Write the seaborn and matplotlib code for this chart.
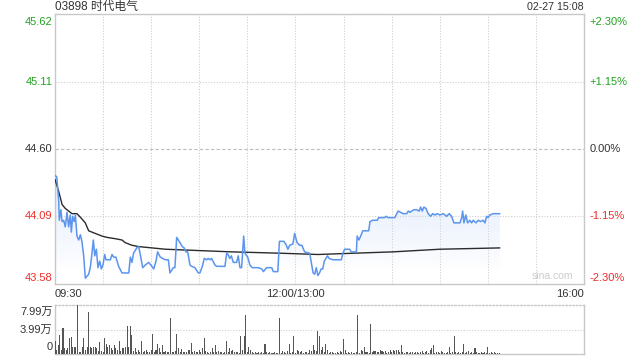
import numpy as np
import pandas as pd
import matplotlib
matplotlib.use("Agg")
import matplotlib.pyplot as plt
import seaborn as sns
from matplotlib.patches import Polygon

sns.set_style("white")
plt.rcParams['font.family'] = ['Liberation Sans', 'Noto Sans CJK SC', 'DejaVu Sans']

# ---------------- data ----------------
title = "03898 时代电气"
stamp = "02-27 15:08"
prev_close = 44.60
price_ticks = [45.62, 45.11, 44.60, 44.09, 43.58]
pct_ticks = ["+2.30%", "+1.15%", "0.00%", "-1.15%", "-2.30%"]
time_ticks = [0, 150, 330]
time_labels = ["09:30", "12:00/13:00", "16:00"]
vol_ticks = [0, 3.99, 7.99]
vol_labels = ["0", "3.99万", "7.99万"]

price_min = [0, 1.1, 2.3, 2.7, 3.7, 4.4, 5.4, 6.4, 7.5, 8.5,
             9.5, 10.2, 11, 12, 12.7, 13.7, 14.8, 15.8, 16.8, 17.9,
             18.9, 21, 22, 23, 23.9, 24.8, 25.8, 26.8, 27.9, 28.9,
             29.9, 31, 31.8, 33, 34.5, 35.6, 36.6, 38, 39.7, 41.8,
             46, 47, 48, 49, 51, 52.2, 53.2, 54.7, 56.3, 58.4,
             60.5, 61.6, 63, 64, 65.7, 68.8, 70.7, 71.7, 73.8, 74.8,
             75.9, 78, 79.4, 80.6, 81.7, 82.8, 84.2, 85.3, 87.3, 89.4,
             90.4, 91.9, 93.1, 94.6, 95.6, 96.7, 97.7, 99.8, 100.9, 106,
             107.1, 108, 109, 110, 111.2, 113.3, 114.3, 115.4, 116.4, 117.7,
             118.5, 120.2, 121.6, 123, 126.8, 129, 130, 132, 135.2, 136.2,
             139, 140, 142.8, 144.3, 145.3, 146.4, 148.4, 149.5, 151, 152.6,
             154, 155.7, 158.9, 159.9, 161, 162, 163, 164, 165, 166,
             167, 168, 170, 171, 173.4, 178.6, 179.6, 180.7, 183.8, 184.8,
             188, 188.5, 189.6, 190.7, 192, 195.7, 196.5, 198.3, 201, 201.9,
             205.6, 206.6, 207.7, 210.8, 212, 214, 217.2, 219.4, 220.4, 221.4,
             222.5, 224, 225.6, 227.2, 228.1, 229.1, 230.1, 231.4, 232.8, 234.3,
             235.6, 237, 238.4, 240.1, 242.2, 244.3, 245.9, 247.4, 248.9, 252.6,
             253.7, 254.3, 255.1, 256.3, 257.4, 258.8, 259.9, 260.9, 262.6, 264,
             265.5, 267.1, 268.2, 269.2, 270.2, 271.3, 273.4, 277.5]
price_val = [44.40, 44.39, 44.21, 44.06, 44.14, 44.05, 44.06, 44.01, 44.12, 44.01,
             44.10, 43.97, 44.09, 44.05, 44.10, 43.94, 43.91, 43.95, 43.90, 43.79,
             43.62, 43.65, 43.70, 43.80, 43.91, 43.79, 43.84, 43.70, 43.75, 43.69,
             43.72, 43.80, 43.76, 43.76, 43.76, 43.80, 43.78, 43.78, 43.71, 43.66,
             43.66, 43.78, 43.74, 43.81, 43.85, 43.86, 43.80, 43.70, 43.72, 43.74,
             43.71, 43.69, 43.75, 43.82, 43.78, 43.76, 43.76, 43.66, 43.70, 43.70,
             43.93, 43.89, 43.86, 43.85, 43.82, 43.82, 43.72, 43.71, 43.70, 43.66,
             43.66, 43.71, 43.77, 43.76, 43.77, 43.76, 43.77, 43.72, 43.71, 43.71,
             43.81, 43.80, 43.77, 43.79, 43.74, 43.74, 43.79, 43.70, 43.70, 43.94,
             43.81, 43.78, 43.72, 43.70, 43.70, 43.69, 43.67, 43.70, 43.70, 43.67,
             43.67, 43.90, 43.90, 43.87, 43.84, 43.87, 43.88, 43.96, 43.89, 43.87,
             43.87, 43.82, 43.81, 43.74, 43.66, 43.65, 43.70, 43.64, 43.66, 43.69,
             43.69, 43.75, 43.79, 43.77, 43.76, 43.76, 43.81, 43.84, 43.84, 43.82,
             43.82, 43.94, 43.91, 43.94, 43.98, 43.98, 44.05, 44.06, 44.06, 44.08,
             44.08, 44.09, 44.08, 44.08, 44.08, 44.13, 44.11, 44.11, 44.13, 44.12,
             44.13, 44.14, 44.14, 44.13, 44.16, 44.13, 44.16, 44.15, 44.11, 44.09,
             44.11, 44.10, 44.11, 44.10, 44.11, 44.09, 44.11, 44.09, 44.04, 44.04,
             44.08, 44.13, 44.04, 44.10, 44.04, 44.06, 44.04, 44.06, 44.04, 44.06,
             44.05, 44.06, 44.04, 44.09, 44.08, 44.10, 44.11, 44.11]

avg_min = [0, 2.3, 4.4, 6.4, 8.5, 10.6, 13.7, 16.8, 18.9, 21, 25.1, 29.3, 32.4, 37.6,
           41.8, 43.8, 48, 52.2, 60.5, 68.8, 89.4, 110.2, 140, 164, 187, 210.8, 240, 277.5]
avg_val = [44.37, 44.28, 44.18, 44.15, 44.13, 44.11, 44.11, 44.07, 44.04, 43.98, 43.96,
           43.94, 43.93, 43.92, 43.91, 43.89, 43.87, 43.86, 43.85, 43.84, 43.83, 43.82,
           43.81, 43.80, 43.81, 43.82, 43.84, 43.85]

# volume per minute, in 万
volume = [2.05, 0.7, 1.5, 3.1, 0.7, 4.2, 1.0, 0.7, 1.0, 2.6,
          2.7, 1.2, 1.2, 1.2, 8.0, 0.4, 0.4, 1.2, 2.6, 0.7,
          1.2, 6.9, 1.1, 0.9, 1.2, 1.2, 1.0, 0.5, 1.9, 0.5,
          0.4, 2.6, 1.6, 1.2, 1.5, 1.0, 0.6, 1.4, 1.0, 0.7,
          2.2, 0.5, 1.0, 0.9, 1.1, 4.6, 1.2, 4.6, 3.1, 0.5,
          1.0, 0.3, 0.7, 0.4, 2.2, 0.3, 0.5, 0.7, 0.3, 0.4,
          0.7, 3.2, 0.4, 0.7, 1.6, 1.0, 0.3, 1.5, 0.4, 0.5,
          0.3, 0.4, 5.9, 0.3, 0.4, 0.5, 3.2, 1.0, 0.4, 0.8,
          0.4, 0.3, 0.4, 0.7, 0.7, 1.8, 0.3, 0.5, 0.4, 0.3,
          0.7, 0.3, 1.0, 2.6, 0.5, 0.3, 0.2, 0.4, 0.9, 0.4,
          1.5, 0.3, 0.5, 0.3, 0.4, 0.2, 0.4, 2.2, 0.3, 1.0,
          0.5, 0.7, 0.3, 0.4, 0.3, 0.2, 2.9, 0.7, 2.9, 6.4,
          0.3, 1.2, 0.7, 0.4, 0.2, 0.3, 0.2, 0.3, 0.2, 0.3,
          0.2, 1.6, 0.3, 0.2, 0.3, 0.2, 0.2, 0.3, 0.2, 0.2,
          5.8, 0.2, 0.5, 0.3, 0.2, 0.5, 1.6, 0.2, 0.3, 3.0,
          0.2, 0.7, 0.5, 0.3, 0.5, 0.2, 0.3, 0.3, 0.2, 0.7,
          0.5, 1.5, 0.6, 0.5, 3.7, 3.0, 0.7, 1.2, 0.3, 1.6,
          0.7, 0.2, 0.3, 0.3, 0.2, 0.2, 0.3, 0.2, 0.5, 0.3,
          2.5, 0.7, 0.2, 0.3, 0.2, 0.3, 0.2, 0.2, 0.3, 6.4,
          0.2, 0.7, 0.5, 1.1, 0.3, 0.3, 0.2, 4.9, 0.3, 0.5,
          0.5, 0.3, 0.3, 0.6, 0.5, 0.3, 0.5, 0.2, 0.3, 0.6,
          0.3, 0.7, 0.5, 0.6, 0.7, 0.3, 1.4, 0.3, 0.2, 0.3,
          0.3, 0.2, 0.3, 0.3, 0.2, 0.3, 0.3, 0.2, 0.3, 0.5,
          0.2, 0.3, 0.5, 0.2, 0.7, 0.9, 1.4, 0.2, 0.3, 0.3,
          0.2, 0.5, 0.3, 0.2, 0.2, 0.3, 1.2, 0.2, 0.3, 3.0,
          0.3, 0.2, 0.3, 0.2, 0.3, 1.6, 0.2, 0.3, 0.5, 0.2,
          0.3, 0.2, 0.9, 0.3, 0.2, 0.2, 0.3, 0.2, 0.3, 0.2,
          1.1, 0.2, 0.3, 0.2, 0.3, 0.2, 0.2, 0.2]
vol_min = list(range(len(volume)))

# ---------------- styling ----------------
GREEN = "#22a322"
RED = "#f02a2a"
DARK = "#333333"
GRID = "#cfcfcf"
SPINE = "#c8c8c8"
BLUE = "#5b95ee"
FS = 8

fig = plt.figure(figsize=(6.4, 3.6), dpi=100)
ax = fig.add_axes([55/640, 1-284/360, (584-55)/640, (284-14)/360])
axv = fig.add_axes([55/640, 1-354/360, (584-55)/640, (354-305)/360])

ymin, ymax = price_ticks[-1] - 0.004, price_ticks[0] + 0.006
ax.set_xlim(0, 330)
ax.set_ylim(ymin, ymax)

# grid
for m in range(30, 330, 30):
    ax.axvline(m, color=GRID, lw=0.8, ls=(0, (1, 1.5)), zorder=0)
for p in price_ticks[1:-1]:
    if abs(p - prev_close) < 1e-6:
        ax.axhline(p, color="#bdbdbd", lw=0.8, ls=(0, (3, 2)), zorder=0)
    else:
        ax.axhline(p, color=GRID, lw=0.8, ls=(0, (1, 1.5)), zorder=0)

# gradient fill under price line
xs = np.array(price_min)
ys = np.array(price_val)
poly_pts = np.vstack([np.column_stack([xs, ys]), [[xs[-1], ymin], [xs[0], ymin]]])
poly = Polygon(poly_pts, closed=True, facecolor="none", edgecolor="none")
ax.add_patch(poly)
grad = np.linspace(1, 0, 256)
rgba = np.zeros((256, 1, 4))
rgba[:, 0, 0] = 0.80
rgba[:, 0, 1] = 0.87
rgba[:, 0, 2] = 0.98
rgba[:, 0, 3] = 0.55 * grad ** 0.8
img = ax.imshow(rgba, extent=[0, 330, 43.68, 44.42], aspect="auto", origin="upper", zorder=1)
img.set_clip_path(poly)
ax.set_xlim(0, 330)
ax.set_ylim(ymin, ymax)

df_p = pd.DataFrame({"m": price_min, "p": price_val})
df_a = pd.DataFrame({"m": avg_min, "p": avg_val})
sns.lineplot(data=df_a, x="m", y="p", ax=ax, color="#2b2b2b", lw=1.0, zorder=3)
sns.lineplot(data=df_p, x="m", y="p", ax=ax, color=BLUE, lw=1.1, zorder=4)

ax.set_xticks([]); ax.set_yticks([])
ax.set_xlabel(""); ax.set_ylabel("")
for s in ax.spines.values():
    s.set_color(SPINE); s.set_linewidth(1.0)

# price labels (left) and percent labels (right)
colors = [GREEN, GREEN, DARK, RED, RED]
for i, (p, pc, c) in enumerate(zip(price_ticks, pct_ticks, colors)):
    va = "top" if i == 0 else ("bottom" if i == len(price_ticks) - 1 else "center")
    yy = p if 0 < i < len(price_ticks) - 1 else (ymax - 0.02 if i == 0 else ymin + 0.005)
    ax.text(-1.6, yy, f"{p:.2f}", ha="right", va=va, color=c, fontsize=FS)
    ax.text(333.5, yy, pc, ha="left", va=va, color=c, fontsize=FS)

# title & stamp
fig.text(55/640, 1-7/360, title, ha="left", va="center", fontsize=8.5, color=DARK)
fig.text(584/640, 1-7/360, stamp, ha="right", va="center", fontsize=7.7, color=DARK)

# time labels
for t, lab in zip(time_ticks, time_labels):
    ha = "left" if t == 0 else ("right" if t == 330 else "center")
    ax.text(t, ymin - 0.04, lab, ha=ha, va="top", fontsize=FS, color=DARK)

# watermark
ax.text(323, ymin + 0.02, "sina.com", ha="right", va="bottom", fontsize=7.5, color="#cccccc")

# ---------------- volume ----------------
axv.set_xlim(0, 330)
axv.set_ylim(0, 7.99)
axv.bar(vol_min, volume, width=0.65, color="#555555", edgecolor="none",
        linewidth=0, align="center", zorder=3)
axv.axhline(3.99, color=GRID, lw=0.8, ls=(0, (1, 1.5)), zorder=0)
axv.set_xticks([]); axv.set_yticks([])
for k, s in axv.spines.items():
    s.set_color(SPINE); s.set_linewidth(1.0)
axv.spines["top"].set_linestyle((0, (1, 1.5)))
for v, lab in zip(vol_ticks, vol_labels):
    va = "bottom" if v == 0 else ("top" if v == 7.99 else "center")
    yy = 0.3 if v == 0 else (7.7 if v == 7.99 else v)
    axv.text(-1.6, yy, lab, ha="right", va=va, fontsize=FS, color=DARK)

fig.savefig("out.png", dpi=100)
